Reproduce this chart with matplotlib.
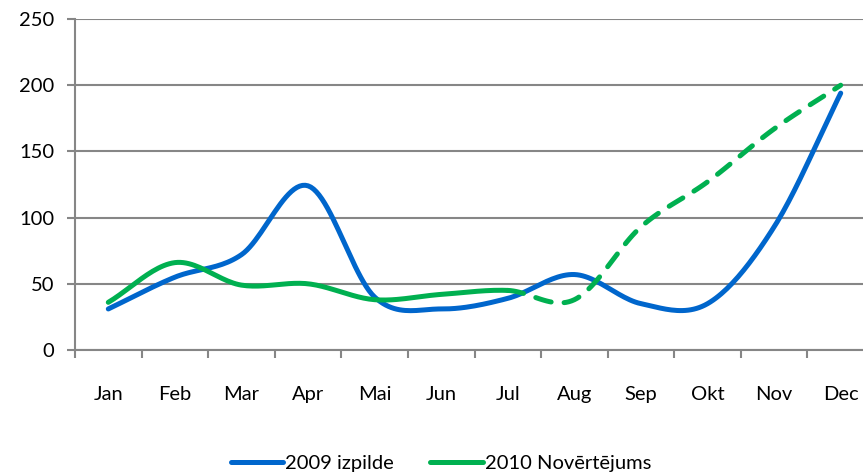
import numpy as np
import matplotlib
matplotlib.use("Agg")
import matplotlib.pyplot as plt

plt.rcParams['font.family'] = ['Lato', 'DejaVu Sans']

# dati
menesi = ['Jan', 'Feb', 'Mar', 'Apr', 'Mai', 'Jun', 'Jul', 'Aug', 'Sep', 'Okt', 'Nov', 'Dec']
izpilde_2009 = [31, 55, 72, 124, 40, 31, 39, 57, 35, 35, 93, 194]
novertejums_2010 = [36, 66, 49, 50, 38, 42, 45, 38, 93, 127, 167, 200]
prognoze_no = 6  # no Jul uz priekšu - raustīta līnija

blue = '#0066CC'
green = '#00B050'
grey = '#868686'


def gluda(x, y, n=24):
    # Catmull-Rom gludinājums (kā Excel "smoothed line")
    x = np.asarray(x, float)
    y = np.asarray(y, float)
    px = np.concatenate([[2 * x[0] - x[1]], x, [2 * x[-1] - x[-2]]])
    py = np.concatenate([[2 * y[0] - y[1]], y, [2 * y[-1] - y[-2]]])
    xs, ys = [], []
    for i in range(1, len(px) - 2):
        t = np.linspace(0, 1, n, endpoint=(i == len(px) - 3))
        for p, out in ((px, xs), (py, ys)):
            p0, p1, p2, p3 = p[i - 1], p[i], p[i + 1], p[i + 2]
            out.append(0.5 * (2 * p1 + (-p0 + p2) * t + (2 * p0 - 5 * p1 + 4 * p2 - p3) * t ** 2
                              + (-p0 + 3 * p1 - 3 * p2 + p3) * t ** 3))
    return np.concatenate(xs), np.concatenate(ys)


fig = plt.figure(figsize=(8.63, 4.76), dpi=100)
ax = fig.add_axes([75 / 863, 1 - 350 / 476, (874 - 75) / 863, 331 / 476])

x = np.arange(len(menesi))
bx, by = gluda(x, izpilde_2009)
ax.plot(bx, by, color=blue, lw=3.6, solid_capstyle='round', zorder=3, label='2009 izpilde')

gx, gy = gluda(x, novertejums_2010)
cut = prognoze_no * 24
ax.plot(gx[:cut + 1], gy[:cut + 1], color=green, lw=3.6, solid_capstyle='round', zorder=3,
        label='2010 Novērtējums')
ax.plot(gx[cut:], gy[cut:], color=green, lw=3.6, dashes=(3.2, 2.6), dash_capstyle='round', zorder=3)

ax.set_ylim(0, 250)
ax.set_xlim(-0.5, len(menesi) - 0.5)
ax.set_yticks(range(0, 251, 50))
ax.yaxis.grid(True, color=grey, lw=1.5)
ax.set_axisbelow(True)

ax.set_xticks(np.arange(-0.5, len(menesi), 1))
ax.set_xticklabels([])
ax.set_xticks(x, minor=True)
ax.set_xticklabels(menesi, minor=True)
ax.tick_params(axis='x', which='major', length=6, width=1.5, color=grey, direction='out')
ax.tick_params(axis='x', which='minor', length=0, pad=26, labelsize=14.5)
ax.tick_params(axis='y', length=6, width=1.5, color=grey, pad=9, labelsize=14.5)

for s in ['top', 'right']:
    ax.spines[s].set_visible(False)
for s in ['left', 'bottom']:
    ax.spines[s].set_color(grey)
    ax.spines[s].set_linewidth(1.5)

h, l = ax.get_legend_handles_labels()
fig.legend(h, l, loc='center', bbox_to_anchor=(441 / 863, 1 - 463 / 476), ncol=2, frameon=False,
           fontsize=14.5, handlelength=2.6, handletextpad=0.1, columnspacing=1.8)

fig.savefig('out.png', dpi=100)
